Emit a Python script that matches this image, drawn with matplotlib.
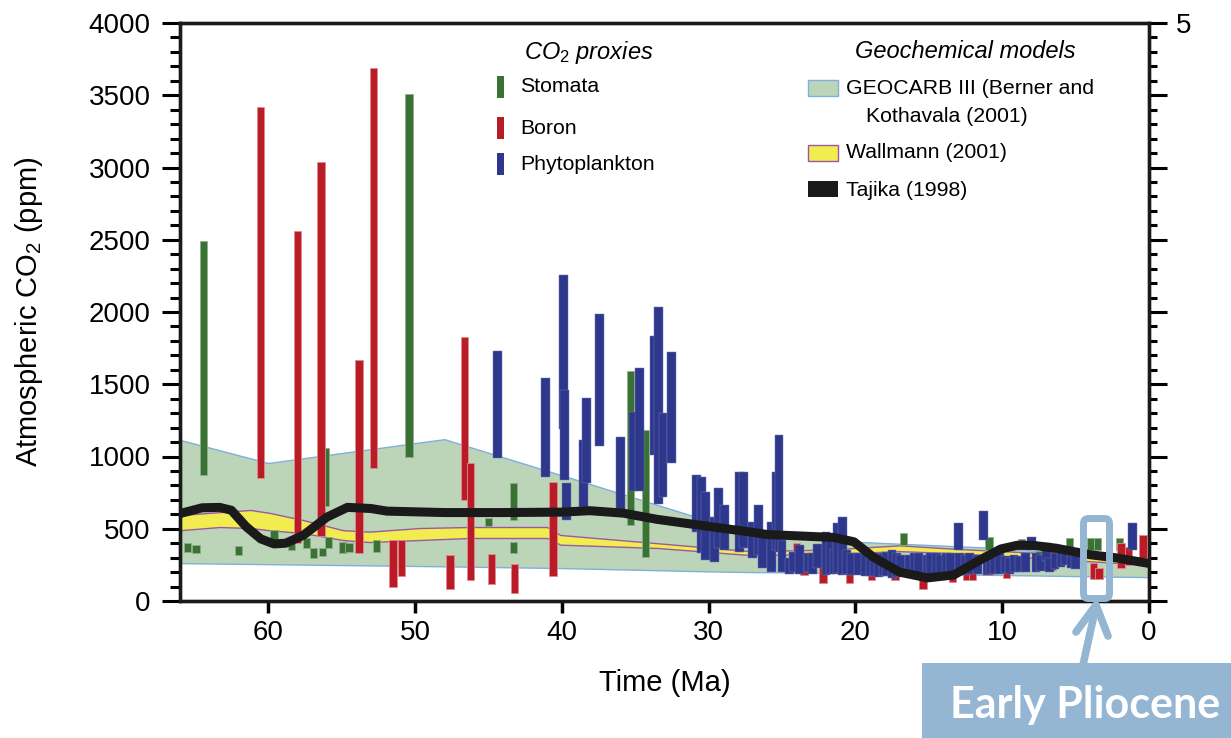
import numpy as np
import matplotlib
matplotlib.use('Agg')
import matplotlib.pyplot as plt
from matplotlib.patches import Rectangle, FancyBboxPatch
from matplotlib.lines import Line2D
from matplotlib.ticker import MultipleLocator, FuncFormatter
from matplotlib.transforms import IdentityTransform

plt.rcParams['font.family'] = ['Liberation Sans', 'DejaVu Sans']
plt.rcParams['mathtext.fontset'] = 'custom'
plt.rcParams['mathtext.rm'] = 'Liberation Sans'
plt.rcParams['mathtext.it'] = 'Liberation Sans:italic'

# %% Donnees (age en Ma, CO2 en ppm)
# Stomates : age, borne basse, borne haute
stomata_age = [64.4, 65.5, 64.9, 62.0, 59.6, 58.4, 57.4, 56.9, 56.3, 55.9, 54.9, 54.5, 52.6,
               56.1, 50.4, 45.0, 43.3, 43.3, 35.3, 34.3, 16.7, 10.9, 8.7, 7.5, 5.4, 4.0, 3.5, 3.1, 2.0]
stomata_low = [870, 340, 330, 320, 420, 350, 365, 300, 310, 370, 330, 340, 340,
               660, 1000, 520, 560, 330, 525, 305, 390, 355, 400, 300, 355, 355, 355, 300, 355]
stomata_high = [2490, 400, 390, 380, 490, 410, 435, 370, 370, 440, 410, 400, 420,
                1060, 3510, 575, 815, 410, 1590, 1183, 470, 445, 430, 345, 435, 435, 435, 340, 435]

# Bore
boron_age = [60.5, 58.0, 56.4, 53.8, 52.8, 51.5, 50.9, 47.6, 46.6, 46.2, 44.8, 43.2, 40.6,
             24.0, 23.5, 22.2, 20.4, 18.9, 17.3, 16.8, 15.4, 13.4, 12.4, 12.0, 10.9, 9.7,
             6.6, 3.8, 3.4, 1.9, 1.4, 0.4]
boron_low = [850, 400, 450, 330, 920, 100, 170, 85, 700, 145, 120, 55, 175,
             270, 180, 125, 125, 145, 145, 200, 85, 130, 145, 145, 180, 160,
             215, 150, 150, 230, 250, 300]
boron_high = [3420, 2560, 3040, 1670, 3690, 420, 420, 320, 1830, 955, 325, 255, 825,
              400, 290, 255, 250, 235, 320, 320, 165, 265, 320, 300, 270, 260,
              390, 265, 230, 400, 375, 455]

# Phytoplancton
phyto_age = [44.4, 41.1, 39.9, 39.8, 39.7, 38.5, 38.3, 37.4, 36.0, 35.1, 34.7, 33.7, 33.4, 33.1,
             32.5, 30.8, 30.5, 30.2, 29.6, 29.3, 28.9, 27.9, 27.6, 27.0, 26.6, 26.3, 25.7,
             25.4, 25.2, 25.0, 24.5, 24.2, 23.8, 23.2, 22.9, 22.6, 22.0, 21.7, 21.4, 21.2,
             20.9, 20.6, 20.3, 19.8, 19.3, 19.0, 18.7, 18.4, 18.1, 17.9, 17.5, 17.2, 16.9,
             16.3, 16.0, 15.7, 15.1, 14.9, 14.5, 14.2, 13.8, 13.5, 13.0, 12.9, 12.5, 12.2,
             11.7, 11.3, 11.0, 10.8, 10.5, 10.2, 9.8, 9.5, 9.2, 8.8, 8.4, 8.0, 7.7, 7.4,
             7.0, 6.8, 6.4, 6.0, 5.7, 5.3, 5.0, 1.1]
phyto_low = [990, 860, 1190, 835, 560, 650, 815, 1070, 630, 760, 760, 1010, 670, 720,
             955, 480, 330, 285, 270, 365, 350, 340, 365, 300, 320, 230, 200,
             355, 340, 200, 190, 200, 190, 200, 190, 230, 180, 190, 190, 195,
             180, 185, 180, 180, 170, 175, 170, 165, 170, 170, 160, 165, 170,
             165, 170, 165, 170, 165, 170, 175, 180, 180, 355, 180, 180, 185,
             190, 420, 180, 190, 190, 190, 195, 190, 200, 200, 200, 355, 200, 210,
             280, 200, 220, 235, 250, 225, 220, 355]
phyto_high = [1730, 1545, 2256, 1460, 820, 1115, 1405, 1985, 1135, 1310, 1610, 1835, 2035, 1300,
              1720, 870, 860, 755, 580, 780, 665, 890, 890, 550, 665, 450, 550,
              890, 1150, 420, 300, 340, 390, 330, 330, 395, 475, 440, 360, 540,
              580, 350, 330, 330, 330, 320, 330, 320, 330, 340, 350, 330, 320,
              320, 330, 330, 320, 330, 330, 320, 330, 330, 540, 330, 320, 330,
              320, 625, 330, 320, 320, 330, 310, 300, 320, 310, 330, 445, 330, 320,
              400, 300, 330, 365, 370, 320, 330, 540]

# GEOCARB III (enveloppe)
geocarb_age = [66, 60, 48, 40, 30, 27, 20, 10, 0]
geocarb_low = [262, 255, 240, 228, 205, 200, 195, 180, 165]
geocarb_high = [1115, 955, 1120, 870, 555, 460, 410, 365, 285]

# Wallmann (2001)
wallmann_age = [66, 63.3, 61.2, 59.9, 57.6, 54.9, 53.1, 49.7, 46.3, 41.0, 40.1, 33.5, 27.2,
                22, 17, 13, 8, 4, 0]
wallmann_low = [490, 512, 505, 490, 470, 422, 408, 422, 436, 436, 390, 367, 318,
                325, 345, 330, 300, 275, 250]
wallmann_high = [595, 615, 630, 610, 560, 490, 480, 505, 512, 512, 457, 400, 345,
                 355, 385, 360, 335, 300, 270]

# Tajika (1998)
tajika_age = [66, 64.5, 63.3, 62.5, 61.5, 60.5, 59.6, 58.8, 57.6, 56.0, 54.6, 53.0, 51.9, 48,
              44, 40, 38.1, 35.8, 33.5, 29.9, 27.2, 26.0, 21.5, 20.1, 18.8, 17.0, 15.1, 13.3,
              11.5, 10.1, 9.0, 7.9, 6.3, 4.0, 2.2, 0]
tajika_co2 = [605, 645, 648, 628, 515, 430, 395, 400, 455, 580, 648, 640, 622, 612,
              612, 615, 625, 608, 565, 515, 478, 460, 440, 410, 305, 200, 160, 180,
              284, 360, 385, 385, 365, 320, 298, 260]

proxy_names = ['Stomata', 'Boron', 'Phytoplankton']
proxy_colors = ['#3a7235', '#b91c26', '#2d378c']
proxy_edges = ['#8fb08a', '#e08a8e', '#6e76b4']
proxy_widths = [0.5, 0.5, 0.6]
proxy_lw = [0.6, 0.6, 0.35]

# %% Figure
W, H = 1231, 738
fig = plt.figure(figsize=(W / 100, H / 100), dpi=100)
ax = fig.add_axes([180 / W, 1 - 601 / H, (1149 - 180) / W, (601 - 23) / H])

ax.fill_between(geocarb_age, geocarb_low, geocarb_high, facecolor='#bcd5b9',
                edgecolor='#7fb0d8', linewidth=1.0, zorder=1)

donnees = [(stomata_age, stomata_low, stomata_high),
           (boron_age, boron_low, boron_high),
           (phyto_age, phyto_low, phyto_high)]
for (age, lo, hi), col, ec, w, lw in zip(donnees, proxy_colors, proxy_edges,
                                          proxy_widths, proxy_lw):
    lo = np.array(lo)
    hi = np.array(hi)
    ax.bar(age, hi - lo, bottom=lo, width=w, color=col, edgecolor=ec,
           linewidth=lw, zorder=3)

ax.fill_between(wallmann_age, wallmann_low, wallmann_high, facecolor='#f1ec50',
                edgecolor='#9b5aa0', linewidth=1.0, zorder=2)
ax.plot(tajika_age, tajika_co2, color='#1a1a1a', linewidth=6.5,
        solid_capstyle='butt', zorder=5)

ax.set_xlim(66, 0)
ax.set_ylim(0, 4000)
ax.set_xticks(range(0, 61, 10))
ax.yaxis.set_major_locator(MultipleLocator(500))
ax.yaxis.set_minor_locator(MultipleLocator(100))
ax.tick_params(axis='y', which='major', length=13, width=2.2, labelsize=20, pad=8)
ax.tick_params(axis='y', which='minor', length=7, width=2.2)
ax.tick_params(axis='x', which='major', length=8.5, width=2.5, labelsize=20, pad=5)
for s in ax.spines.values():
    s.set_linewidth(2.4)
    s.set_color('#1a1a1a')

ax.set_xlabel('Time (Ma)', fontsize=21, labelpad=17)
ax.set_ylabel('Atmospheric CO$_2$ (ppm)', fontsize=21)
ax.yaxis.set_label_coords(-0.139, 0.5)

# axe de droite
ax2 = ax.twinx()
ax2.set_ylim(0, 4000)
ax2.yaxis.set_major_locator(MultipleLocator(500))
ax2.yaxis.set_minor_locator(MultipleLocator(100))
ax2.yaxis.set_major_formatter(FuncFormatter(lambda v, p: '5' if v == 4000 else ''))
ax2.tick_params(axis='y', which='major', length=13, width=2.2, labelsize=20, pad=6)
ax2.tick_params(axis='y', which='minor', length=6, width=2.2)
for s in ax2.spines.values():
    s.set_linewidth(2.4)
    s.set_color('#1a1a1a')

# %% Legende (coordonnees en pixels depuis le haut)
T = IdentityTransform()
fig.text(589, H - 52, '$CO_2$ proxies', transform=T, fontsize=17, style='italic',
         ha='center', va='center')
for name, col, y in zip(proxy_names, proxy_colors, [87, 128, 164]):
    fig.add_artist(Rectangle((497, H - y - 11), 7, 22, transform=T, facecolor=col,
                             edgecolor='none'))
    fig.text(520, H - y, name, transform=T, fontsize=15.3, va='center')

fig.text(965, H - 52, 'Geochemical models', transform=T, fontsize=17, style='italic',
         ha='center', va='center')
fig.add_artist(Rectangle((808, H - 96), 30, 16, transform=T, facecolor='#bcd5b9',
                         edgecolor='#7fb0d8', linewidth=1))
fig.text(846, H - 88, 'GEOCARB III (Berner and', transform=T, fontsize=15.3, va='center')
fig.text(866, H - 117, 'Kothavala (2001)', transform=T, fontsize=15.3, va='center')
fig.add_artist(Rectangle((808, H - 161), 30, 16, transform=T, facecolor='#f1ec50',
                         edgecolor='#9b5aa0', linewidth=1))
fig.text(846, H - 153, 'Wallmann (2001)', transform=T, fontsize=15.3, va='center')
fig.add_artist(Rectangle((808, H - 197), 30, 16, transform=T, facecolor='#1a1a1a',
                         edgecolor='none'))
fig.text(846, H - 190, 'Tajika (1998)', transform=T, fontsize=15.3, va='center')

# %% Annotation Early Pliocene
bleu = '#94b6d3'
fig.add_artist(FancyBboxPatch((1083.5, H - 598.5), 26, 80, boxstyle='round,pad=0,rounding_size=5',
                              transform=T, facecolor='none', edgecolor=bleu, linewidth=5))
fig.add_artist(Line2D([1083, 1096], [H - 665, H - 606], transform=T, color=bleu,
                      linewidth=5.5, solid_capstyle='round'))
fig.add_artist(Line2D([1076, 1096, 1108], [H - 632, H - 605, H - 636], transform=T,
                      color=bleu, linewidth=5.5, solid_capstyle='round',
                      solid_joinstyle='round'))
fig.add_artist(Rectangle((922, 0), W - 922, H - 663, transform=T, facecolor=bleu,
                         edgecolor='none'))
fig.text(1085, 33, 'Early Pliocene', transform=T, fontsize=31, color='white',
         fontweight='bold', family=['Lato', 'DejaVu Sans'], ha='center', va='center')

fig.savefig('out.png', dpi=100)
